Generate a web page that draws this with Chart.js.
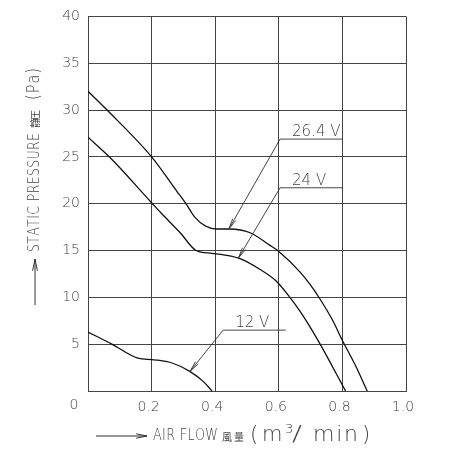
<!DOCTYPE html>
<html>
<head>
<meta charset="utf-8">
<script src="https://cdn.jsdelivr.net/npm/chart.js@4.4.1/dist/chart.umd.min.js"></script>
<style>
  html, body { margin: 0; padding: 0; background: #fff; }
  canvas { display: block; }
</style>
</head>
<body>
<canvas id="fanChart" width="451" height="450"></canvas>
<script>
// P-Q curves (air flow m3/min, static pressure Pa)
const flow264 = [0, 0.06, 0.2, 0.28, 0.31, 0.335, 0.37, 0.405, 0.445, 0.51, 0.57, 0.6, 0.667, 0.7, 0.73, 0.77, 0.8, 0.84, 0.878];
const pressure264 = [32.0, 30.0, 25.0, 21.3, 19.9, 18.6, 17.6, 17.3, 17.3, 16.9, 15.6, 14.9, 12.7, 11.3, 9.8, 7.5, 5.4, 2.8, 0];

const flow24 = [0, 0.07, 0.2, 0.23, 0.29, 0.34, 0.39, 0.45, 0.48, 0.54, 0.59, 0.635, 0.667, 0.69, 0.73, 0.81];
const pressure24 = [27.1, 24.9, 20.1, 19.0, 16.9, 15.0, 14.7, 14.4, 14.1, 13.0, 11.8, 10.0, 8.5, 7.3, 5.0, 0];

const flow12 = [0, 0.075, 0.157, 0.2, 0.22, 0.258, 0.32, 0.363, 0.39];
const pressure12 = [6.3, 5.0, 3.5, 3.35, 3.3, 3.07, 2.1, 1.0, 0];

const voltageLabels = ['26.4 V', '24 V', '12 V'];

// callouts in data units: underline from x1..x2 at y, leader to tip
const callouts = [
    { text: voltageLabels[0], x1: 0.604, x2: 0.8, y: 26.9, tipX: 0.443, tipY: 17.3 },
    { text: voltageLabels[1], x1: 0.604, x2: 0.8, y: 21.7, tipX: 0.473, tipY: 14.2 },
    { text: voltageLabels[2], x1: 0.425, x2: 0.622, y: 6.5, tipX: 0.321, tipY: 2.1 }
];

const toPoints = (xs, ys) => xs.map((x, i) => ({ x: x, y: ys[i] }));

const textInk = '#444';
const light = "'DejaVu Sans'";
const cjk = "'Noto Sans CJK JP', sans-serif";

// draw characters evenly spread between start and end, glyphs squeezed horizontally
function spread(ctx, text, start, end, y, squeeze) {
    const sq = squeeze || 1;
    const chars = Array.from(text);
    const widths = chars.map(c => ctx.measureText(c).width * sq);
    const total = widths.reduce((a, b) => a + b, 0);
    const gap = chars.length > 1 ? (end - start - total) / (chars.length - 1) : 0;
    let x = start;
    ctx.textAlign = 'left';
    chars.forEach((c, i) => {
        ctx.save();
        ctx.translate(x, y);
        ctx.scale(sq, 1);
        ctx.fillText(c, 0, 0);
        ctx.restore();
        x += widths[i] + gap;
    });
}

function arrowHead(ctx, fromX, fromY, toX, toY, len, spreadAngle) {
    const ang = Math.atan2(toY - fromY, toX - fromX);
    ctx.beginPath();
    ctx.moveTo(toX - len * Math.cos(ang - spreadAngle), toY - len * Math.sin(ang - spreadAngle));
    ctx.lineTo(toX, toY);
    ctx.lineTo(toX - len * Math.cos(ang + spreadAngle), toY - len * Math.sin(ang + spreadAngle));
    ctx.stroke();
}

const decorations = {
    id: 'decorations',
    afterDraw(chart) {
        const ctx = chart.ctx;
        const xs = chart.scales.x;
        const ys = chart.scales.y;
        const area = chart.chartArea;
        ctx.save();

        // voltage callouts
        ctx.strokeStyle = '#333';
        ctx.lineWidth = 0.9;
        ctx.fillStyle = textInk;
        ctx.font = '200 15px ' + light;
        ctx.textBaseline = 'alphabetic';
        callouts.forEach(c => {
            const px1 = xs.getPixelForValue(c.x1);
            const px2 = xs.getPixelForValue(c.x2);
            const py = ys.getPixelForValue(c.y);
            const tx = xs.getPixelForValue(c.tipX);
            const ty = ys.getPixelForValue(c.tipY);
            ctx.beginPath();
            ctx.moveTo(px2, py);
            ctx.lineTo(px1, py);
            ctx.lineTo(tx, ty);
            ctx.stroke();
            arrowHead(ctx, px1, py, tx, ty, 11, 0.16);
            ctx.textAlign = 'left';
            ctx.fillText(c.text, px1 + 12, py - 3);
        });

        // shared origin label
        ctx.font = '200 14px ' + light;
        ctx.textAlign = 'center';
        ctx.textBaseline = 'middle';
        ctx.fillText('0', area.left - 14, area.bottom + 14);

        // x axis title with arrow
        const ty = area.bottom + 45;
        const L = area.left;
        ctx.strokeStyle = '#333';
        ctx.lineWidth = 1;
        ctx.beginPath();
        ctx.moveTo(L + 8, ty);
        ctx.lineTo(L + 59, ty);
        ctx.stroke();
        arrowHead(ctx, L + 8, ty, L + 59, ty, 11, 0.2);
        ctx.textBaseline = 'middle';
        ctx.font = '200 16px ' + light;
        spread(ctx, 'AIR FLOW', L + 65, L + 130, ty, 0.8);
        ctx.font = '10px ' + cjk;
        spread(ctx, '風量', L + 134, L + 156, ty + 1);
        ctx.font = '200 21px ' + light;
        ctx.textAlign = 'left';
        ctx.fillText('(', L + 162, ty);
        ctx.fillText('m', L + 174, ty);
        spread(ctx, '/', L + 204, L + 214, ty, 1.4);
        spread(ctx, 'min', L + 225, L + 270, ty, 1.05);
        ctx.fillText(')', L + 274, ty);
        ctx.font = '200 13px ' + light;
        ctx.fillText('3', L + 197, ty - 6);

        // y axis title with arrow
        const ax = 35;
        ctx.beginPath();
        ctx.moveTo(ax, 305);
        ctx.lineTo(ax, 259);
        ctx.stroke();
        arrowHead(ctx, ax, 305, ax, 259, 12, 0.2);
        ctx.translate(ax, 252);
        ctx.rotate(-Math.PI / 2);
        ctx.font = '200 16px ' + light;
        spread(ctx, 'STATIC PRESSURE', 0, 119, 0, 0.78);
        ctx.font = '10px ' + cjk;
        spread(ctx, '静圧', 124, 142, 0);
        ctx.font = '200 17px ' + light;
        spread(ctx, '(Pa)', 152, 184, 0, 0.85);

        ctx.restore();
    }
};

const lineStyle = {
    borderColor: '#111',
    borderWidth: 1.3,
    pointRadius: 0,
    fill: false,
    cubicInterpolationMode: 'monotone'
};

new Chart(document.getElementById('fanChart'), {
    type: 'line',
    data: {
        datasets: [
            Object.assign({ label: voltageLabels[0], data: toPoints(flow264, pressure264) }, lineStyle),
            Object.assign({ label: voltageLabels[1], data: toPoints(flow24, pressure24) }, lineStyle),
            Object.assign({ label: voltageLabels[2], data: toPoints(flow12, pressure12) }, lineStyle)
        ]
    },
    options: {
        responsive: false,
        animation: false,
        layout: { padding: { left: 0, right: 45, top: 10, bottom: 0 } },
        plugins: {
            legend: { display: false },
            tooltip: { enabled: false }
        },
        scales: {
            x: {
                type: 'linear',
                min: 0,
                max: 1,
                afterFit: scale => { scale.height = 59; },
                afterBuildTicks: scale => {
                    scale.ticks = [0, 0.2, 0.4, 0.6, 0.8, 1.0].map(v => ({ value: v }));
                },
                grid: { color: '#444', lineWidth: 1, drawTicks: false },
                border: { color: '#444' },
                ticks: {
                    padding: 8,
                    labelOffset: -3,
                    color: textInk,
                    font: { family: 'DejaVu Sans', size: 14, weight: '200' },
                    callback: v => (v === 0 ? '' : v.toFixed(1))
                }
            },
            y: {
                min: 0,
                max: 40,
                afterFit: scale => { scale.width = 88; },
                grid: { color: '#444', lineWidth: 1, drawTicks: false },
                border: { color: '#444' },
                ticks: {
                    stepSize: 5,
                    padding: 8,
                    color: textInk,
                    font: { family: 'DejaVu Sans', size: 14, weight: '200' },
                    callback: v => (v === 0 ? '' : v)
                }
            }
        }
    },
    plugins: [decorations]
});
</script>
</body>
</html>
